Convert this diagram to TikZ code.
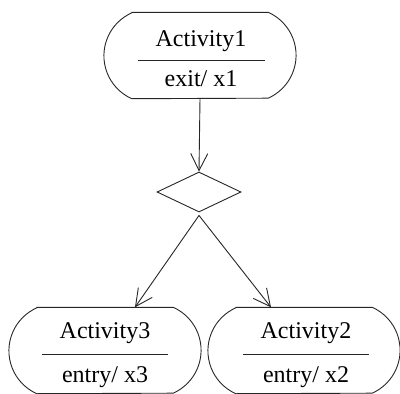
\documentclass[tikz,border=0pt]{standalone}
\usepackage{fontspec}
\setmainfont{Liberation Serif}
\usetikzlibrary{arrows.meta,shapes.geometric}
\tikzset{
  actbox/.style={rectangle,minimum width=192pt,minimum height=86pt,inner sep=0pt},
  acttext/.style={anchor=base,inner sep=0pt,font=\fontsize{24}{28}\selectfont},
  outline/.style={line width=0.9pt,draw=black!85},
  choice/.style={diamond,draw=black!85,line width=0.9pt,minimum width=84pt,minimum height=40pt,inner sep=0pt},
  arr/.style={line width=0.9pt,draw=black!85,-{Straight Barb[length=17pt,width=17pt,line width=0.9pt]}}
}
\newcommand{\actoutline}[1]{%
  \draw[outline] ([xshift=28pt]#1.north west) -- ([xshift=-28pt]#1.north east)
    arc[start angle=66,end angle=-66,radius=47pt]
    -- ([xshift=28pt]#1.south west)
    arc[start angle=246,end angle=114,radius=47pt] -- cycle;}
\begin{document}
\begin{tikzpicture}[x=1pt,y=-1pt]
\useasboundingbox (0,0) rectangle (400,394);
% Activity1
\node[actbox] (a1) at (200,55.5) {};
\actoutline{a1}
\node[acttext] (a1t) at (201,46) {Activity1};
\node[acttext] (a1e) at (201,86) {exit/ x1};
\draw[outline] (138,60) coordinate (s1a) -- (265,60) coordinate (s1b);
% decision
\node[choice] (d) at (199,192) {};
% Activity3
\node[actbox] (a3) at (105,350.5) {};
\actoutline{a3}
\node[acttext] (a3t) at (105,338) {Activity3};
\node[acttext] (a3e) at (105,382) {entry/ x3};
\draw[outline] (42,354) coordinate (s3a) -- (168,354) coordinate (s3b);
% Activity2
\node[actbox] (a2) at (304,350.5) {};
\actoutline{a2}
\node[acttext] (a2t) at (306,338) {Activity2};
\node[acttext] (a2e) at (306,382) {entry/ x2};
\draw[outline] (243,354) coordinate (s2a) -- (369,354) coordinate (s2b);
% connectors
\draw[arr] (a1.south) -- (d.north);
\draw[arr] ([yshift=-3pt]d.south) -- ([xshift=30pt]a3.north);
\draw[arr] ([yshift=-3pt]d.south) -- ([xshift=-33pt]a2.north);
\end{tikzpicture}
\end{document}
